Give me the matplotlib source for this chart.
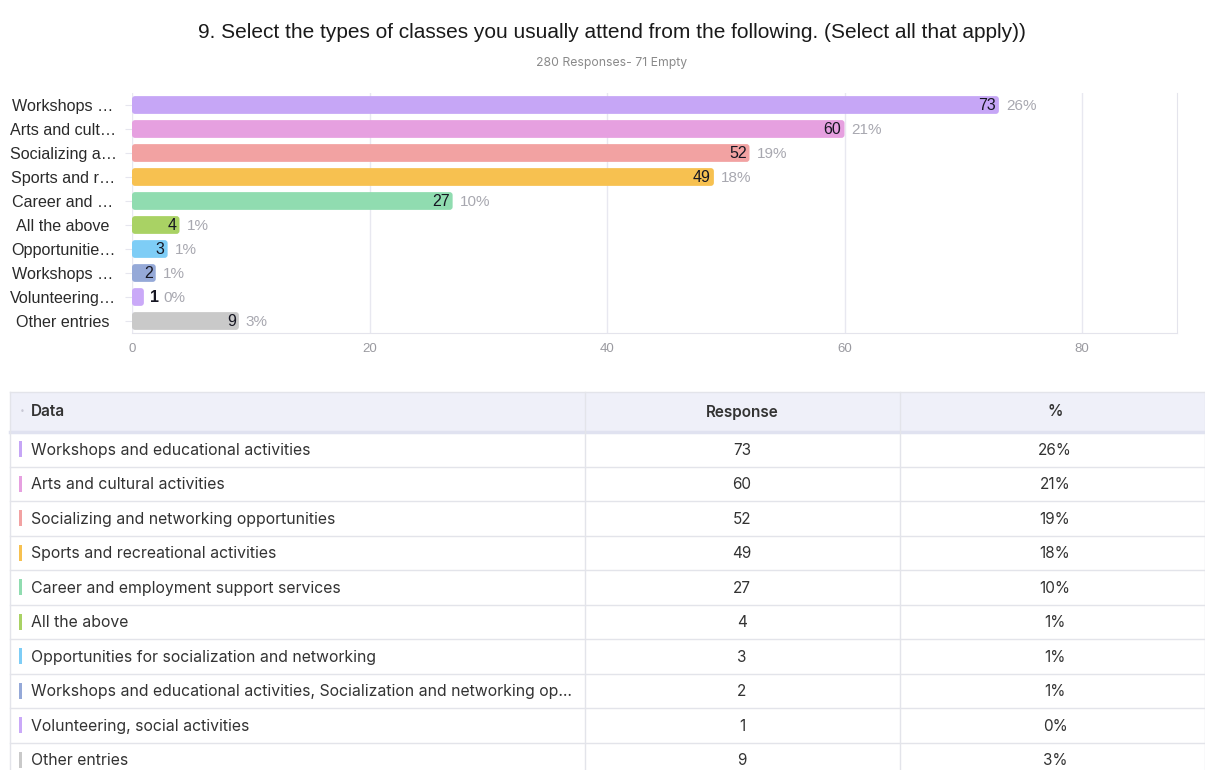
import matplotlib
matplotlib.use("Agg")
import matplotlib.pyplot as plt
from matplotlib.patches import FancyBboxPatch, Rectangle
from matplotlib.transforms import blended_transform_factory

# ---- data ----
short_labels = ["Workshops …", "Arts and cult…", "Socializing a…", "Sports and r…",
                "Career and …", "All the above", "Opportunitie…", "Workshops …",
                "Volunteering…", "Other entries"]
full_labels = ["Workshops and educational activities",
               "Arts and cultural activities",
               "Socializing and networking opportunities",
               "Sports and recreational activities",
               "Career and employment support services",
               "All the above",
               "Opportunities for socialization and networking",
               "Workshops and educational activities, Socialization and networking op…",
               "Volunteering, social activities",
               "Other entries"]
counts = [73, 60, 52, 49, 27, 4, 3, 2, 1, 9]
percents = ["26%", "21%", "19%", "18%", "10%", "1%", "1%", "1%", "0%", "3%"]
colors = ["#c6a6f6", "#e6a0e0", "#f2a2a2", "#f7c150", "#90dcb0",
          "#a9d264", "#7ecdf6", "#95a9d8", "#caa9f8", "#c9c9c9"]
x_ticks = [0, 20, 40, 60, 80]

title = "9. Select the types of classes you usually attend from the following. (Select all that apply))"
subtitle = "280 Responses- 71 Empty"
headers = ["Data", "Response", "%"]

W, H = 1205, 770
fig = plt.figure(figsize=(W / 100, H / 100), dpi=100)
fig.patch.set_facecolor("white")

CHART_FONT = ["Liberation Sans", "DejaVu Sans"]
TABLE_FONT = ["Inter", "DejaVu Sans"]

fig.text(612 / W, 1 - 32 / H, title, ha="center", va="center",
         fontsize=15, color="#1a1a1a", family=CHART_FONT)
fig.text(612 / W, 1 - 63 / H, subtitle, ha="center", va="center",
         fontsize=8.8, color="#8a8a8a", family=TABLE_FONT)

# ---- bar chart ----
left, right, top, bottom = 132, 1177, 93, 333
ax = fig.add_axes([left / W, 1 - bottom / H, (right - left) / W, (bottom - top) / H])
n = len(counts)
ypos = list(range(n))
bars = ax.barh(ypos, counts, height=0.74, color=colors)
ax.set_xlim(0, 88)
ax.set_ylim(n - 0.5, -0.5)

# rounded bars rebuilt from the bar geometry
px_x = (right - left) / 88.0
px_y = (bottom - top) / float(n)
for b, c in zip(bars, colors):
    x0, y0, w, h = b.get_x(), b.get_y(), b.get_width(), b.get_height()
    b.set_visible(False)
    r = min(3.0 / px_x, w / 2)
    patch = FancyBboxPatch((x0, y0), w, h,
                           boxstyle=f"round,pad=0,rounding_size={r}",
                           mutation_aspect=px_x / px_y,
                           facecolor=c, edgecolor="none", zorder=2)
    ax.add_patch(patch)

for i, (v, p) in enumerate(zip(counts, percents)):
    if v * px_x > 18:
        ax.text(v - 3 / px_x, i + 0.04, str(v), ha="right", va="center", fontsize=11.5,
                color="#161622", family=CHART_FONT, zorder=3)
        ax.text(v + 7 / px_x, i + 0.04, p, ha="left", va="center", fontsize=11,
                color="#a8a8b0", family=CHART_FONT, zorder=3)
    else:
        ax.text(v + 6 / px_x, i + 0.04, str(v), ha="left", va="center", fontsize=11.5,
                color="#161622", family=CHART_FONT, fontweight="bold", zorder=3)
        ax.text(v + 20 / px_x, i + 0.04, p, ha="left", va="center", fontsize=11,
                color="#a8a8b0", family=CHART_FONT, zorder=3)

ax.set_xticks(x_ticks)
ax.set_xticklabels([str(t) for t in x_ticks], fontsize=9.5, color="#9a9aa0",
                   family=CHART_FONT)
ax.tick_params(axis="x", length=0, pad=7)
ax.set_yticks(ypos)
ax.set_yticklabels([])
ax.tick_params(axis="y", length=5, color="#e6e6ee", pad=2)

# category labels centred in the margin left of the bars
ytr = blended_transform_factory(fig.transFigure, ax.transData)
for i, lbl in enumerate(short_labels):
    fig.text(63 / W, i + 0.06, lbl, transform=ytr, ha="center", va="center",
             fontsize=11.6, color="#2a2a2a", family=CHART_FONT)

ax.grid(axis="x", color="#e8e8f0", linewidth=1)
ax.set_axisbelow(True)
for s in ["top", "left"]:
    ax.spines[s].set_visible(False)
ax.spines["bottom"].set_color("#e4e4ec")
ax.spines["right"].set_color("#e4e4ec")

# ---- table ----
tab = fig.add_axes([0, 0, 1, 1])
tab.set_xlim(0, W)
tab.set_ylim(H, 0)
tab.axis("off")
tab.set_zorder(-1)

tx0, tx1 = 10, 1205
col_edges = [10, 585, 900, 1205]
head_top, head_bot = 392, 432
row_h = 34.5
line_c = "#e3e4ea"

tab.add_patch(Rectangle((tx0, head_top), tx1 - tx0, head_bot - head_top,
                        facecolor="#eff0f9", edgecolor="none"))
tab.plot([tx0, tx1], [head_top, head_top], color=line_c, lw=1)
tab.plot([tx0, tx1], [head_bot, head_bot], color="#e0e2f0", lw=2.5)
hy = (head_top + head_bot) / 2
tab.text(22, hy, "•", ha="center", va="center", fontsize=6, color="#c8c8d4")
tab.text(31, hy, headers[0], ha="left", va="center", fontsize=11, color="#333333",
         family=TABLE_FONT, fontweight="semibold")
tab.text(742, hy, headers[1], ha="center", va="center", fontsize=11, color="#333333",
         family=TABLE_FONT, fontweight="semibold")
tab.text(1055, hy, headers[2], ha="center", va="center", fontsize=11, color="#333333",
         family=TABLE_FONT, fontweight="semibold")

for i in range(len(full_labels)):
    y0 = head_bot + i * row_h
    yc = y0 + row_h / 2
    tab.plot([tx0, tx1], [y0 + row_h, y0 + row_h], color=line_c, lw=1)
    tab.add_patch(Rectangle((19, yc - 8), 3, 16, facecolor=colors[i], edgecolor="none"))
    tab.text(31, yc + 1, full_labels[i], ha="left", va="center", fontsize=11.4,
             color="#333333", family=TABLE_FONT)
    tab.text(742, yc + 1, str(counts[i]), ha="center", va="center", fontsize=11,
             color="#333333", family=TABLE_FONT)
    tab.text(1055, yc + 1, percents[i], ha="center", va="center", fontsize=11,
             color="#333333", family=TABLE_FONT)

bottom_y = head_bot + len(full_labels) * row_h
for xe in col_edges:
    tab.plot([xe, xe], [head_top, bottom_y], color=line_c, lw=1)

fig.savefig("out.png", dpi=100, facecolor="white")
